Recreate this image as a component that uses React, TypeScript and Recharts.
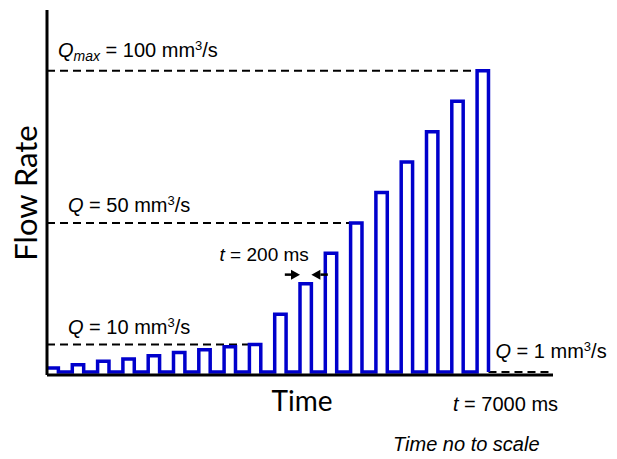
import React from 'react';
import { LineChart, Line, XAxis, YAxis, ReferenceLine, Customized } from 'recharts';

// Pulse heights (mm³/s) of the ramp, one per 200 ms pulse
const pulseLevels = [2.3, 3.4, 4.5, 5.3, 6.3, 7.4, 8.3, 9.3, 10, 20, 30, 40, 50, 60, 70, 80, 90, 100];
// Flow held between pulses
const baseLevel = 1;
// Fraction of each cycle the pulse is held high
const pulseDuty = 0.45;
// Marked flow levels
const levelValues = [100, 50, 10, 1];
const levelSubs = ['max', '', '', ''];
// Horizontal extent of each dashed level line, in cycles
const levelFrom = [0, 0, 0, 17 + pulseDuty];
const levelTo = [17, 12, 8 + pulseDuty, 19.85];
// Pulse used to illustrate the pulse duration
const markedPulse = 10;
const pulseLabel = '200';
const endLabel = '7000';
// Axis extents (cycles, mm³/s)
const timeDomain = [0, 20];
const flowDomain = [0, 120];

const flowSeries = pulseLevels.flatMap((q, i) => [
  { t: i, q },
  { t: i + pulseDuty, q: baseLevel },
]);

const LABEL_FONT = '"Liberation Sans", Arial, sans-serif';
const TITLE_FONT = 'Lato, "Open Sans", sans-serif';

const W = 617;
const H = 459;
const margin = { top: 10, right: 64, bottom: 84, left: 47 };

const levelLabel = (sub: string, value: number, dx: number, dy: number) => (props: any) => {
  const vb = props.viewBox || {};
  const x = (vb.x ?? 0) + dx;
  const y = (vb.y ?? 0) + dy;
  return (
    <text x={x} y={y} fontFamily={LABEL_FONT} fontSize={20} fill="#000" style={{ whiteSpace: 'pre' }}>
      <tspan fontStyle="italic">Q</tspan>
      {sub ? (
        <tspan fontStyle="italic" fontSize={14} dy={4}>
          {sub}
        </tspan>
      ) : null}
      <tspan dy={sub ? -4 : 0}>{` = ${value} mm`}</tspan>
      <tspan fontSize={13} dy={-7}>
        3
      </tspan>
      <tspan dy={7}>/s</tspan>
    </text>
  );
};

const Arrow = (props: any) => {
  const { x1, y1, x2, y2 } = props;
  const dir = Math.sign(x2 - x1) || 1;
  const head = 9;
  return (
    <g>
      <line x1={x1} y1={y1} x2={x2 - dir * head} y2={y2} stroke="#000" strokeWidth={2.5} />
      <polygon
        points={`${x2},${y2} ${x2 - dir * head},${y2 - 5} ${x2 - dir * head},${y2 + 5}`}
        fill="#000"
      />
    </g>
  );
};

const durationLabel = (props: any) => {
  const vb = props.viewBox || {};
  return (
    <text
      x={(vb.x ?? 0) + 24}
      y={(vb.y ?? 0) - 14}
      textAnchor="end"
      fontFamily={LABEL_FONT}
      fontSize={19}
      fill="#000"
      style={{ whiteSpace: 'pre' }}
    >
      <tspan fontStyle="italic">t</tspan>
      <tspan>{` = ${pulseLabel} ms`}</tspan>
    </text>
  );
};

const yTitle = (props: any) => {
  const vb = props.viewBox || {};
  const cx = (vb.x ?? 0) - 22;
  const cy = 193;
  return (
    <text
      x={cx}
      y={cy}
      transform={`rotate(-90 ${cx} ${cy})`}
      textAnchor="middle"
      dominantBaseline="central"
      fontFamily={TITLE_FONT}
      fontSize={31}
      fill="#000"
    >
      Flow Rate
    </text>
  );
};

const xTitle = (props: any) => {
  const vb = props.viewBox || {};
  return (
    <text
      x={(vb.x ?? 0) + 255}
      y={(vb.y ?? 0) + 36}
      textAnchor="middle"
      fontFamily={TITLE_FONT}
      fontSize={28}
      fill="#000"
    >
      Time
    </text>
  );
};

const Footnotes = () => (
  <g fontFamily={LABEL_FONT} fontSize={20} fill="#000">
    <text x={453} y={411} style={{ whiteSpace: 'pre' }}>
      <tspan fontStyle="italic">t</tspan>
      <tspan>{` = ${endLabel} ms`}</tspan>
    </text>
    <text x={393} y={451} fontStyle="italic">
      Time no to scale
    </text>
  </g>
);

export default function App() {
  return (
    <div style={{ position: 'absolute', left: 0, top: 0, width: W, height: H, background: '#fff' }}>
      <LineChart width={W} height={H} data={flowSeries} margin={margin}>
        <XAxis type="number" dataKey="t" domain={timeDomain} allowDataOverflow hide />
        <YAxis type="number" domain={flowDomain} allowDataOverflow hide />
        {levelValues.map((v, i) => (
          <ReferenceLine
            key={v}
            segment={[
              { x: levelFrom[i], y: v },
              { x: levelTo[i], y: v },
            ]}
            stroke="#000"
            strokeWidth={2}
            strokeDasharray="8 5"
            label={{
              content: levelLabel(
                levelSubs[i],
                v,
                i === 0 ? 11 : i === 3 ? 7 : 21,
                i === 0 ? -14 : i === 3 ? -14 : -11
              ),
            }}
          />
        ))}
        <Line
          type="stepAfter"
          dataKey="q"
          stroke="#0000CC"
          strokeWidth={3.5}
          dot={false}
          isAnimationActive={false}
          strokeLinejoin="miter"
        />
        {/* time axis */}
        <ReferenceLine
          segment={[
            { x: timeDomain[0], y: flowDomain[0] },
            { x: timeDomain[1], y: flowDomain[0] },
          ]}
          stroke="#000"
          strokeWidth={3}
          label={{ content: xTitle }}
        />
        {/* flow axis */}
        <ReferenceLine
          segment={[
            { x: timeDomain[0], y: flowDomain[0] },
            { x: timeDomain[0], y: flowDomain[1] },
          ]}
          stroke="#000"
          strokeWidth={3}
          label={{ content: yTitle }}
        />
        <ReferenceLine
          segment={[
            { x: markedPulse - 0.6, y: 33 },
            { x: markedPulse, y: 33 },
          ]}
          shape={Arrow}
          label={{ content: durationLabel }}
        />
        <ReferenceLine
          segment={[
            { x: markedPulse + pulseDuty + 0.65, y: 33 },
            { x: markedPulse + pulseDuty, y: 33 },
          ]}
          shape={Arrow}
        />
        <Customized component={Footnotes} />
      </LineChart>
    </div>
  );
}
